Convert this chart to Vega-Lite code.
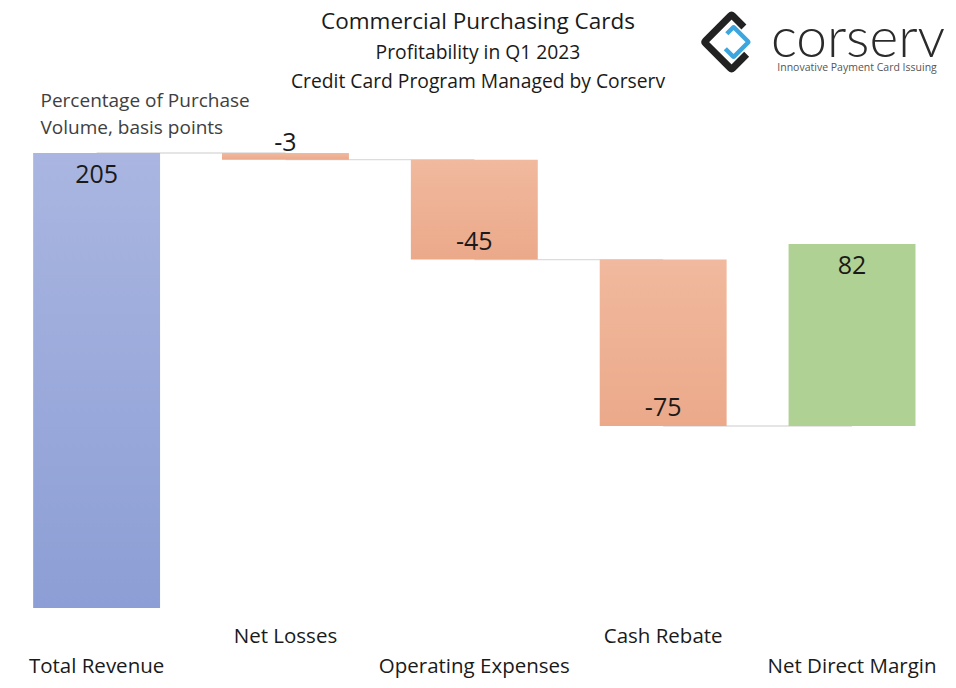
{
  "$schema": "https://vega.github.io/schema/vega-lite/v6.json",
  "autosize": {"type": "none"},
  "width": 956,
  "height": 513,
  "padding": {"left": 0, "top": 95, "right": 0, "bottom": 80},
  "background": "white",
  "config": {"view": {"stroke": null}, "font": "Open Sans"},
  "title": {
    "text": "Commercial Purchasing Cards",
    "subtitle": ["Profitability in Q1 2023", "Credit Card Program Managed by Corserv"],
    "anchor": "middle",
    "frame": "group",
    "font": "Open Sans",
    "fontSize": 22.5,
    "fontWeight": "normal",
    "color": "#1a1a1a",
    "subtitleFont": "Open Sans",
    "subtitleFontSize": 19.3,
    "subtitleColor": "#1a1a1a",
    "subtitleLineHeight": 29,
    "subtitlePadding": 10,
    "offset": -80
  },
  "datasets": {
    "bars": [
      {"cat": "Total Revenue", "start": 0, "end": 205, "label": "205", "kind": "total"},
      {"cat": "Net Losses", "start": 205, "end": 202, "label": "-3", "kind": "small"},
      {"cat": "Operating Expenses", "start": 202, "end": 157, "label": "-45", "kind": "neg"},
      {"cat": "Cash Rebate", "start": 157, "end": 82, "label": "-75", "kind": "neg"},
      {"cat": "Net Direct Margin", "start": 82, "end": 164, "label": "82", "kind": "net"}
    ],
    "links": [
      {"cat": "Total Revenue", "next": "Net Losses", "level": 205},
      {"cat": "Net Losses", "next": "Operating Expenses", "level": 202},
      {"cat": "Operating Expenses", "next": "Cash Rebate", "level": 157},
      {"cat": "Cash Rebate", "next": "Net Direct Margin", "level": 82}
    ]
  },
  "encoding": {
    "x": {
      "field": "cat",
      "type": "nominal",
      "sort": null,
      "scale": {
        "domain": ["Total Revenue", "Net Losses", "Operating Expenses", "Cash Rebate", "Net Direct Margin"],
        "paddingInner": 0.328,
        "paddingOuter": 0.195,
        "align": 0.45
      },
      "axis": {
        "title": null,
        "domain": false,
        "ticks": false,
        "grid": false,
        "labelAngle": 0,
        "labelFont": "Open Sans",
        "labelFontSize": 20.5,
        "labelColor": "#1a1a1a",
        "labelBaseline": "top",
        "labelLineHeight": 30,
        "labelPadding": 18,
        "labelLimit": 300,
        "labelExpr": "indexof(['Net Losses','Cash Rebate'], datum.value) >= 0 ? datum.label : [' ', datum.label]"
      }
    }
  },
  "layer": [
    {
      "data": {"name": "links"},
      "mark": {"type": "rule", "color": "#dcdcdc", "strokeWidth": 1.3},
      "encoding": {
        "x2": {"field": "next"},
        "y": {
          "field": "level",
          "type": "quantitative",
          "scale": {"domain": [0, 231.13], "nice": false, "zero": false},
          "axis": {
            "title": ["Percentage of Purchase", "Volume, basis points"],
            "domain": false,
            "ticks": false,
            "labels": false,
            "grid": false,
            "titleAngle": 0,
            "titleAlign": "left",
            "titleBaseline": "top",
            "titleX": 40,
            "titleY": -4,
            "titleFont": "Open Sans",
            "titleFontSize": 19,
            "titleFontWeight": "normal",
            "titleColor": "#404040",
            "titleLineHeight": 27
          }
        }
      }
    },
    {
      "data": {"name": "bars"},
      "transform": [{"filter": "datum.kind == 'total'"}],
      "mark": {"type": "bar", "color": {"gradient": "linear", "x1": 0, "y1": 0, "x2": 0, "y2": 1, "stops": [{"offset": 0, "color": "#aab6e1"}, {"offset": 1, "color": "#8c9ed5"}]}},
      "encoding": {"y": {"field": "start", "type": "quantitative"}, "y2": {"field": "end"}}
    },
    {
      "data": {"name": "bars"},
      "transform": [{"filter": "datum.kind == 'neg' || datum.kind == 'small'"}],
      "mark": {"type": "bar", "color": {"gradient": "linear", "x1": 0, "y1": 0, "x2": 0, "y2": 1, "stops": [{"offset": 0, "color": "#f1b99e"}, {"offset": 1, "color": "#eba98a"}]}},
      "encoding": {"y": {"field": "start", "type": "quantitative"}, "y2": {"field": "end"}}
    },
    {
      "data": {"name": "bars"},
      "transform": [{"filter": "datum.kind == 'net'"}],
      "mark": {"type": "bar", "color": "#afd194"},
      "encoding": {"y": {"field": "start", "type": "quantitative"}, "y2": {"field": "end"}}
    },
    {
      "data": {"name": "bars"},
      "transform": [{"filter": "datum.kind == 'total' || datum.kind == 'net'"}],
      "mark": {"type": "text", "font": "Open Sans", "fontSize": 25, "color": "#1a1a1a", "baseline": "middle", "dy": 22},
      "encoding": {"y": {"field": "end", "type": "quantitative"}, "text": {"field": "label"}}
    },
    {
      "data": {"name": "bars"},
      "transform": [{"filter": "datum.kind == 'neg'"}],
      "mark": {"type": "text", "font": "Open Sans", "fontSize": 25, "color": "#1a1a1a", "baseline": "middle", "dy": -18},
      "encoding": {"y": {"field": "end", "type": "quantitative"}, "text": {"field": "label"}}
    },
    {
      "data": {"name": "bars"},
      "transform": [{"filter": "datum.kind == 'small'"}],
      "mark": {"type": "text", "font": "Open Sans", "fontSize": 25, "color": "#1a1a1a", "baseline": "middle", "dy": -10},
      "encoding": {"y": {"field": "start", "type": "quantitative"}, "text": {"field": "label"}}
    },
    {
      "data": {"values": [{"t": "corserv"}]},
      "mark": {"type": "text", "font": "Lato", "fontWeight": 300, "fontSize": 55, "color": "#2b2b2b", "baseline": "middle", "align": "center", "dx": 6},
      "encoding": {"x": {"datum": "Net Direct Margin"}, "y": {"datum": 256}, "text": {"field": "t"}}
    },
    {
      "data": {"values": [{"t": "Innovative Payment Card Issuing"}]},
      "mark": {"type": "text", "font": "Open Sans", "fontSize": 10.5, "color": "#555555", "baseline": "middle", "align": "center", "dx": 5},
      "encoding": {"x": {"datum": "Net Direct Margin"}, "y": {"datum": 243.3}, "text": {"field": "t"}}
    },
    {
      "data": {"values": [{"part": "outer"}]},
      "mark": {"type": "point", "shape": "M0.45,-0.55 L0.05,-0.95 Q0,-1 -0.05,-0.95 L-0.95,-0.05 Q-1,0 -0.95,0.05 L-0.05,0.95 Q0,1 0.05,0.95 L0.55,0.45", "size": 3000, "filled": false, "stroke": "#222222", "strokeWidth": 7, "strokeJoin": "round", "opacity": 1},
      "encoding": {"x": {"datum": "Net Direct Margin"}, "xOffset": {"value": -57}, "y": {"datum": 255}}
    },
    {
      "data": {"values": [{"part": "inner"}]},
      "mark": {"type": "point", "shape": "M-0.45,-0.55 L-0.05,-0.95 Q0,-1 0.05,-0.95 L0.95,-0.05 Q1,0 0.95,0.05 L0.05,0.95 Q0,1 -0.05,0.95 L-0.55,0.45", "size": 900, "filled": false, "stroke": "#3ea6df", "strokeWidth": 4.5, "strokeJoin": "round", "opacity": 1},
      "encoding": {"x": {"datum": "Net Direct Margin"}, "xOffset": {"value": -55}, "y": {"datum": 255}}
    }
  ]
}
